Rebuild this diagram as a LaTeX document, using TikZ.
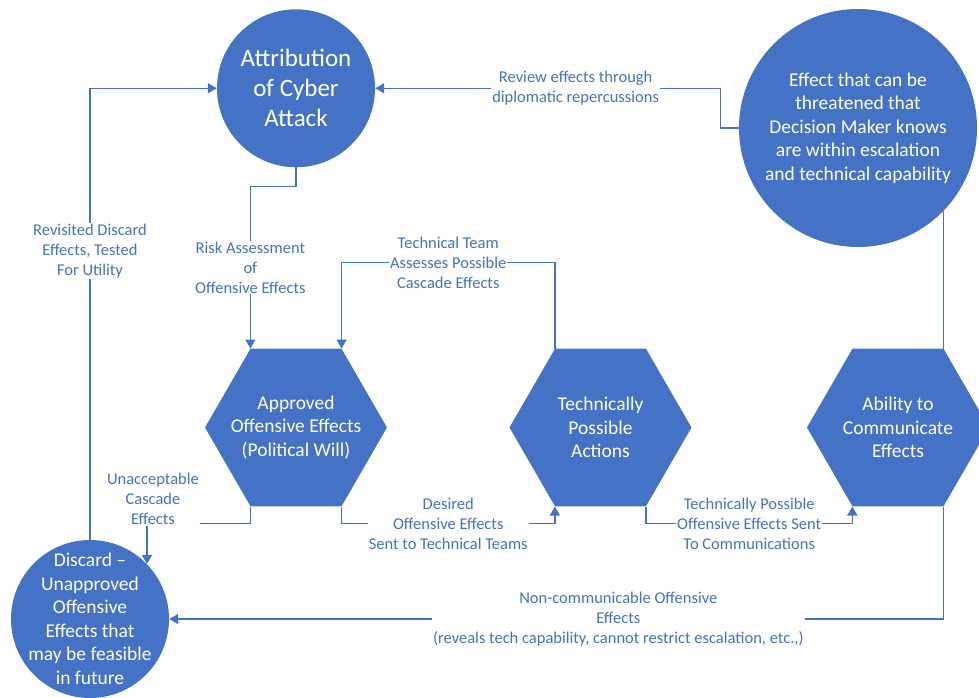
\documentclass[tikz,border=0pt]{standalone}
\usepackage{fontspec}
\setmainfont{Carlito}
\usepackage{tikz}
\usetikzlibrary{positioning, shapes.geometric, arrows.meta}
\definecolor{officeblue}{HTML}{4472C4}
\tikzset{
    inside/.style={text=white, align=center, font=\fontsize{19.5}{23.5}\selectfont},
    hexa/.style={regular polygon, regular polygon sides=6, fill=officeblue, inner sep=0pt, minimum size=182pt, label={[inside]center:{#1}}},
    bubble/.style={circle, fill=officeblue, inner sep=0pt, label={[inside]center:{#1}}},
    note/.style={fill=white, text=officeblue, align=center, inner sep=1pt, font=\fontsize{16.5}{20}\selectfont},
    link/.style={draw=officeblue, line width=1.3pt},
}

\begin{document}
\begin{tikzpicture}[x=1pt, y=-1pt, >={Triangle[length=9pt,width=10pt]}]
    \clip (0,0) rectangle (979,697);
    \node [hexa={Approved\\Offensive Effects\\(Political Will)}] (approved) at (296,427.5) {};
    \node [hexa={Technically\\Possible\\Actions}] (tech) [right=122pt of approved] {};
    \node [hexa={Ability to\\Communicate\\Effects}] (ability) [right=115pt of tech] {};
    \node [circle, fill=officeblue, inner sep=0pt, minimum size=158pt, text=white, align=center, font=\fontsize{25}{30}\selectfont] (attr) [above=181pt of approved] {Attribution\\of Cyber\\Attack};
    \node [bubble={Effect that can be\\threatened that\\Decision Maker knows\\are within escalation\\and technical capability}, minimum size=238pt] (effect) at (858,128) {};
    \node [bubble={Discard \textendash\\Unapproved\\Offensive\\Effects that\\may be feasible\\in future}, minimum size=158pt] (discard) at (90,619) {};
    \draw [link, ->] (attr.south) -- ++(0,19) -| node [note, pos=0.75] {Risk Assessment\\of\\Offensive Effects} (approved.120);
    \draw [link, ->] (tech.120) -- ++(0,-86) -| node [note, pos=0.25] {Technical Team\\Assesses Possible\\Cascade Effects} (approved.60);
    \draw [link, ->] (approved.240) -- ++(0,17) -| node [note, pos=0.5, anchor=south, xshift=6pt, yshift=-3pt] {Unacceptable\\Cascade\\Effects} (discard.44);
    \draw [link, ->] (approved.300) -- ++(0,17) -| node [note, pos=0.25] {Desired\\Offensive Effects\\Sent to Technical Teams} (tech.240);
    \draw [link, ->] (tech.300) -- ++(0,17) -| node [note, pos=0.25] {Technically Possible\\Offensive Effects Sent\\To Communications} (ability.240);
    \draw [link] (ability.60) -- (ability.60 |- effect.316);
    \draw [link, ->] (effect.west) -- ++(-18,0) |- node [note, pos=0.71] {Review effects through\\diplomatic repercussions} (attr.east);
    \draw [link, ->] (ability.300) |- node [note, pos=0.71] {Non-communicable Offensive\\Effects\\(reveals tech capability, cannot restrict escalation, etc.,)} (discard.east);
    \draw [link, ->] (discard.north) |- node [note, pos=0.32] {Revisited Discard\\Effects, Tested\\For Utility} (attr.west);
\end{tikzpicture}
\end{document}
